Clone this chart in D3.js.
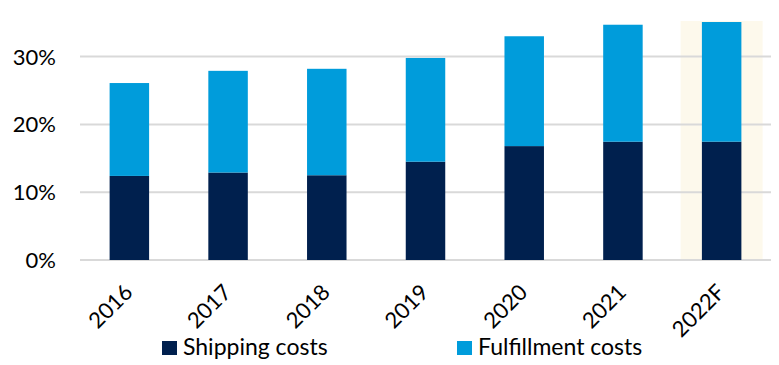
<!DOCTYPE html>
<html>
<head>
<meta charset="utf-8">
<script src="https://cdn.jsdelivr.net/npm/d3@7"></script>
<style>
  body { margin: 0; background: #fff; }
  text { font-family: Lato, "Open Sans", sans-serif; fill: #000; }
</style>
</head>
<body>
<div id="chart"></div>
<script>
// data (percent of sales)
const years = ["2016", "2017", "2018", "2019", "2020", "2021", "2022F"];
const shipping = [12.4, 12.9, 12.5, 14.5, 16.8, 17.45, 17.45];
const fulfillment = [13.7, 15.0, 15.7, 15.3, 16.2, 17.25, 17.65];
const yTicks = [0, 10, 20, 30];
const seriesNames = ["Shipping costs", "Fulfillment costs"];
const colors = ["#00204e", "#009cdb"];
const highlighted = "2022F";

const W = 779, H = 365;
const margin = { top: 21, right: 8, bottom: 105, left: 80 };
const width = W - margin.left - margin.right,
    height = H - margin.top - margin.bottom;

const svg = d3.select("#chart").append("svg")
    .attr("width", W).attr("height", H);
const g = svg.append("g").attr("transform", `translate(${margin.left},${margin.top})`);

const x = d3.scaleBand().domain(years).range([0, width])
    .paddingInner(0.6).paddingOuter(0.3);
const y = d3.scaleLinear().domain([0, 35.25]).range([height, 0]);

// forecast highlight band
const hx = x(highlighted) + x.bandwidth() / 2;
g.append("rect")
    .attr("x", hx - 41).attr("y", 0)
    .attr("width", 82).attr("height", height)
    .attr("fill", "#fdf9ec");

// gridlines
g.selectAll(".grid").data(yTicks).enter().append("line")
    .attr("x1", 0).attr("x2", width)
    .attr("y1", d => y(d)).attr("y2", d => y(d))
    .attr("stroke", "#d9d9d9").attr("stroke-width", 2);

// y axis labels
g.selectAll(".ylab").data(yTicks).enter().append("text")
    .attr("x", -24).attr("y", d => y(d))
    .attr("dy", "0.36em")
    .attr("text-anchor", "end")
    .style("font-size", "22px")
    .text(d => d + "%");

// stacked bars
const table = years.map((yr, i) => ({ year: yr, s: shipping[i], f: fulfillment[i] }));
const stack = d3.stack().keys(["s", "f"])(table);

g.selectAll(".series").data(stack).enter().append("g")
    .attr("fill", (d, i) => colors[i])
    .selectAll("rect").data(d => d).enter().append("rect")
    .attr("x", d => x(d.data.year))
    .attr("y", d => y(d[1]))
    .attr("width", x.bandwidth())
    .attr("height", d => y(d[0]) - y(d[1]));

// x labels, rotated
g.selectAll(".xlab").data(years).enter().append("text")
    .attr("transform", d => `translate(${x(d) + x.bandwidth() / 2 - 1},${height + 28}) rotate(-45)`)
    .attr("text-anchor", "end")
    .attr("dy", "0.36em")
    .style("font-size", "22px")
    .text(d => d);

// legend
const legendX = [162, 457];
const legend = svg.selectAll(".legend").data(seriesNames).enter().append("g")
    .attr("transform", (d, i) => `translate(${legendX[i]},341)`);
legend.append("rect")
    .attr("width", 15).attr("height", 14)
    .attr("fill", (d, i) => colors[i]);
legend.append("text")
    .attr("x", 21).attr("y", 14)
    .style("font-size", "23px")
    .text(d => d);
</script>
</body>
</html>
